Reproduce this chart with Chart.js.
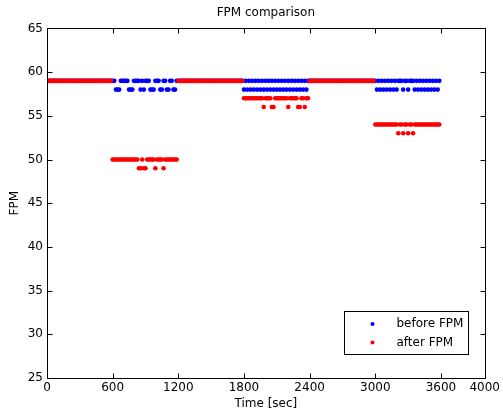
<!DOCTYPE html>
<html>
<head>
<meta charset="utf-8">
<title>FPM comparison</title>
<script src="https://cdn.jsdelivr.net/npm/chart.js@4.4.1/dist/chart.umd.min.js"></script>
<style>
  html, body { margin: 0; padding: 0; background: #fff; }
  #fpm-chart { display: block; }
</style>
</head>
<body>
<canvas id="fpm-chart" width="503" height="417"></canvas>
<script>
(function () {
  'use strict';

  // Sampling: one reading every SAMPLE_STEP seconds, 40 readings per 600 s block
  var SAMPLE_STEP = 15;
  var SEGMENT_START = [0, 600, 1200, 1800, 2400, 3000];
  var X_TICKS = [0, 600, 1200, 1800, 2400, 3000, 3600, 4000];

  // before FPM, one array per block
  var BEFORE_0 = [59,59,59,59,59,59,59,59,59,59, 59,59,59,59,59,59,59,59,59,59, 59,59,59,59,59,59,59,59,59,59, 59,59,59,59,59,59,59,59,59,59];
  var BEFORE_1 = [59,59,58,58,58,59,59,59,59,59, 58,58,58,59,59,59,59,58,59,58, 59,59,59,58,58,58,59,59,59,58, 58,59,59,58,58,59,59,58,58,59];
  var BEFORE_2 = [59,59,59,59,59,59,59,59,59,59, 59,59,59,59,59,59,59,59,59,59, 59,59,59,59,59,59,59,59,59,59, 59,59,59,59,59,59,59,59,59,59];
  var BEFORE_3 = [58,59,58,59,58,59,58,59,58,59, 58,59,58,59,58,59,58,59,58,59, 58,59,58,59,58,59,58,59,58,59, 58,59,58,59,58,59,58,59,58,59];
  var BEFORE_4 = [59,59,59,59,59,59,59,59,59,59, 59,59,59,59,59,59,59,59,59,59, 59,59,59,59,59,59,59,59,59,59, 59,59,59,59,59,59,59,59,59,59];
  var BEFORE_5 = [59,58,59,58,59,58,59,58,59,58, 59,58,59,58,59,59,59,58,59,59, 58,59,59,59,58,59,58,59,58,59, 58,59,58,59,58,59,58,59,58,59];

  // after FPM, one array per block
  var AFTER_0 = [59,59,59,59,59,59,59,59,59,59, 59,59,59,59,59,59,59,59,59,59, 59,59,59,59,59,59,59,59,59,59, 59,59,59,59,59,59,59,59,59,59];
  var AFTER_1 = [50,50,50,50,50,50,50,50,50,50, 50,50,50,50,50,50,49,49,50,49, 49,50,50,50,50,50,49,50,50,50, 50,49,50,50,50,50,50,50,50,50];
  var AFTER_2 = [59,59,59,59,59,59,59,59,59,59, 59,59,59,59,59,59,59,59,59,59, 59,59,59,59,59,59,59,59,59,59, 59,59,59,59,59,59,59,59,59,59];
  var AFTER_3 = [57,57,57,57,57,57,57,57,57,57, 57,57,56,57,57,57,57,56,56,57, 57,57,57,57,57,57,57,56,57,57, 57,57,57,56,56,57,57,56,57,57];
  var AFTER_4 = [59,59,59,59,59,59,59,59,59,59, 59,59,59,59,59,59,59,59,59,59, 59,59,59,59,59,59,59,59,59,59, 59,59,59,59,59,59,59,59,59,59];
  var AFTER_5 = [54,54,54,54,54,54,54,54,54,54, 54,54,54,54,53,54,54,53,54,54, 53,54,54,53,54,54,54,54,54,54, 54,54,54,54,54,54,54,54,54,54];

  var BEFORE = [BEFORE_0, BEFORE_1, BEFORE_2, BEFORE_3, BEFORE_4, BEFORE_5];
  var AFTER = [AFTER_0, AFTER_1, AFTER_2, AFTER_3, AFTER_4, AFTER_5];

  var FONT = { family: '"DejaVu Sans", "Liberation Sans", sans-serif', size: 12, weight: 'normal' };
  var TICK_LEN = 5;
  var DOT = 2.3;

  function toPoints(blocks) {
    var pts = [];
    blocks.forEach(function (vals, b) {
      vals.forEach(function (v, i) {
        pts.push({ x: SEGMENT_START[b] + i * SAMPLE_STEP, y: v });
      });
    });
    return pts;
  }

  function plainTick(v) { return String(v); }

  // white page behind everything
  var whiteBg = {
    id: 'whiteBg',
    beforeDraw: function (chart) {
      var ctx = chart.ctx;
      ctx.save();
      ctx.fillStyle = '#fff';
      ctx.fillRect(0, 0, chart.width, chart.height);
      ctx.restore();
    }
  };

  // closed box with inward ticks on all four sides
  var axesBox = {
    id: 'axesBox',
    afterDraw: function (chart) {
      var ctx = chart.ctx, a = chart.chartArea;
      var xs = chart.scales.x, ys = chart.scales.y;
      var l = Math.round(a.left) + 0.5, r = Math.round(a.right) + 0.5;
      var t = Math.round(a.top) + 0.5, b = Math.round(a.bottom) + 0.5;
      ctx.save();
      ctx.strokeStyle = '#000';
      ctx.lineWidth = 1;
      ctx.beginPath();
      ctx.rect(l, t, r - l, b - t);
      xs.ticks.forEach(function (tk) {
        var px = Math.round(xs.getPixelForValue(tk.value)) + 0.5;
        ctx.moveTo(px, b); ctx.lineTo(px, b - TICK_LEN);
        ctx.moveTo(px, t); ctx.lineTo(px, t + TICK_LEN);
      });
      ys.ticks.forEach(function (tk) {
        var py = Math.round(ys.getPixelForValue(tk.value)) + 0.5;
        ctx.moveTo(l, py); ctx.lineTo(l + TICK_LEN, py);
        ctx.moveTo(r, py); ctx.lineTo(r - TICK_LEN, py);
      });
      ctx.stroke();
      ctx.restore();
    }
  };

  // legend box in the lower right corner of the plot
  var cornerLegend = {
    id: 'cornerLegend',
    afterDraw: function (chart) {
      var ctx = chart.ctx, a = chart.chartArea;
      var w = 124, h = 43;
      var x0 = Math.round(a.right - 17 - w) + 0.5;
      var y0 = Math.round(a.bottom - 24 - h) + 0.5;
      ctx.save();
      ctx.fillStyle = '#fff';
      ctx.strokeStyle = '#000';
      ctx.lineWidth = 1;
      ctx.fillRect(x0, y0, w, h);
      ctx.strokeRect(x0, y0, w, h);
      ctx.font = FONT.size + 'px ' + FONT.family;
      ctx.textBaseline = 'middle';
      ctx.textAlign = 'left';
      chart.data.datasets.forEach(function (ds, i) {
        var cy = y0 + 12.5 + i * 18.5;
        ctx.fillStyle = ds.backgroundColor;
        ctx.beginPath();
        ctx.arc(x0 + 28, cy, 2, 0, Math.PI * 2);
        ctx.fill();
        ctx.fillStyle = '#000';
        ctx.fillText(ds.label, x0 + 52, cy);
      });
      ctx.restore();
    }
  };

  var canvas = document.getElementById('fpm-chart');
  new Chart(canvas.getContext('2d'), {
    type: 'scatter',
    data: {
      datasets: [{
        label: 'before FPM',
        data: toPoints(BEFORE),
        backgroundColor: '#0000ff',
        pointRadius: DOT,
        pointBorderWidth: 0,
        order: 1
      }, {
        label: 'after FPM',
        data: toPoints(AFTER),
        backgroundColor: '#ff0000',
        pointRadius: DOT,
        pointBorderWidth: 0,
        order: 0
      }]
    },
    options: {
      responsive: false,
      animation: false,
      devicePixelRatio: 1,
      layout: { padding: { left: 0, right: 16, top: 0, bottom: 0 } },
      plugins: {
        legend: { display: false },
        tooltip: { enabled: false },
        title: {
          display: true,
          fullSize: false,
          text: 'FPM comparison',
          color: '#000',
          font: FONT,
          padding: { top: 6, bottom: 8 }
        }
      },
      scales: {
        x: {
          type: 'linear',
          min: 0,
          max: 4000,
          afterBuildTicks: function (s) {
            s.ticks = X_TICKS.map(function (v) { return { value: v }; });
          },
          afterFit: function (s) { s.height = 39; },
          grid: { display: false, drawTicks: false },
          border: { display: false },
          ticks: { color: '#000', font: FONT, padding: 3, maxRotation: 0, autoSkip: false, callback: plainTick },
          title: { display: true, text: 'Time [sec]', color: '#000', font: FONT, padding: { top: 0, bottom: 6 } }
        },
        y: {
          min: 25,
          max: 65,
          afterFit: function (s) { s.width = 47; },
          grid: { display: false, drawTicks: false },
          border: { display: false },
          ticks: { stepSize: 5, color: '#000', font: FONT, padding: 4, callback: plainTick },
          title: { display: true, text: 'FPM', color: '#000', font: FONT, padding: { top: 8, bottom: 0 } }
        }
      }
    },
    plugins: [whiteBg, axesBox, cornerLegend]
  });
})();
</script>
</body>
</html>
